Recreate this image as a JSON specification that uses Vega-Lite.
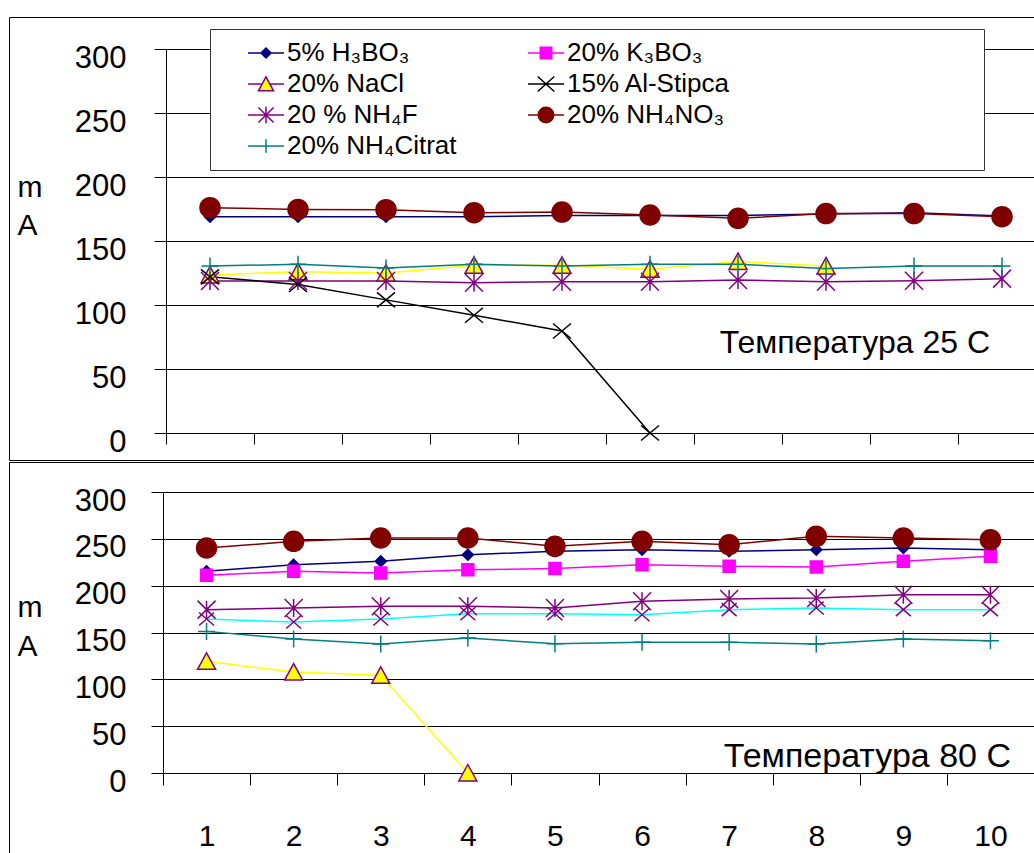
{
  "$schema": "https://vega.github.io/schema/vega-lite/v6.json",
  "padding": {"left": 8, "top": 16, "right": 0, "bottom": 0},
  "background": "white",
  "spacing": 0,
  "config": {
    "view": {"stroke": "black", "strokeWidth": 1},
    "font": "Liberation Sans",
    "axis": {"labelColor": "black", "domainColor": "black", "tickColor": "black", "gridColor": "black", "labelFont": "Liberation Sans", "titleFont": "Liberation Sans", "domainWidth": 1, "tickWidth": 1, "gridWidth": 1}
  },
  "datasets": {
    "t25": [
      {"x": 1, "v": 169, "s": "5% H₃BO₃"}, {"x": 2, "v": 169, "s": "5% H₃BO₃"}, {"x": 3, "v": 169, "s": "5% H₃BO₃"}, {"x": 4, "v": 169, "s": "5% H₃BO₃"}, {"x": 5, "v": 170, "s": "5% H₃BO₃"}, {"x": 6, "v": 170, "s": "5% H₃BO₃"}, {"x": 7, "v": 170, "s": "5% H₃BO₃"}, {"x": 8, "v": 171, "s": "5% H₃BO₃"}, {"x": 9, "v": 172, "s": "5% H₃BO₃"}, {"x": 10, "v": 169.5, "s": "5% H₃BO₃"},
      {"x": 1, "v": 123.5, "s": "20% NaCl"}, {"x": 2, "v": 126, "s": "20% NaCl"}, {"x": 3, "v": 125, "s": "20% NaCl"}, {"x": 4, "v": 131, "s": "20% NaCl"}, {"x": 5, "v": 131, "s": "20% NaCl"}, {"x": 6, "v": 128, "s": "20% NaCl"}, {"x": 7, "v": 134, "s": "20% NaCl"}, {"x": 8, "v": 130.5, "s": "20% NaCl"},
      {"x": 1, "v": 118.8, "s": "20 % NH₄F"}, {"x": 2, "v": 118.8, "s": "20 % NH₄F"}, {"x": 3, "v": 118.8, "s": "20 % NH₄F"}, {"x": 4, "v": 117.4, "s": "20 % NH₄F"}, {"x": 5, "v": 118.2, "s": "20 % NH₄F"}, {"x": 6, "v": 118.2, "s": "20 % NH₄F"}, {"x": 7, "v": 119.5, "s": "20 % NH₄F"}, {"x": 8, "v": 118.2, "s": "20 % NH₄F"}, {"x": 9, "v": 119, "s": "20 % NH₄F"}, {"x": 10, "v": 120.6, "s": "20 % NH₄F"},
      {"x": 1, "v": 130.5, "s": "20% NH₄Citrat"}, {"x": 2, "v": 131.8, "s": "20% NH₄Citrat"}, {"x": 3, "v": 129, "s": "20% NH₄Citrat"}, {"x": 4, "v": 131.8, "s": "20% NH₄Citrat"}, {"x": 5, "v": 130.5, "s": "20% NH₄Citrat"}, {"x": 6, "v": 131.8, "s": "20% NH₄Citrat"}, {"x": 7, "v": 131.8, "s": "20% NH₄Citrat"}, {"x": 8, "v": 128.6, "s": "20% NH₄Citrat"}, {"x": 9, "v": 130.5, "s": "20% NH₄Citrat"}, {"x": 10, "v": 130.5, "s": "20% NH₄Citrat"},
      {"x": 1, "v": 122, "s": "15% Al-Stipca"}, {"x": 2, "v": 116, "s": "15% Al-Stipca"}, {"x": 3, "v": 104, "s": "15% Al-Stipca"}, {"x": 4, "v": 92, "s": "15% Al-Stipca"}, {"x": 5, "v": 79.7, "s": "15% Al-Stipca"}, {"x": 6, "v": 0, "s": "15% Al-Stipca"},
      {"x": 1, "v": 176, "s": "20% NH₄NO₃"}, {"x": 2, "v": 174.7, "s": "20% NH₄NO₃"}, {"x": 3, "v": 174.5, "s": "20% NH₄NO₃"}, {"x": 4, "v": 172.1, "s": "20% NH₄NO₃"}, {"x": 5, "v": 172.6, "s": "20% NH₄NO₃"}, {"x": 6, "v": 170.3, "s": "20% NH₄NO₃"}, {"x": 7, "v": 167.7, "s": "20% NH₄NO₃"}, {"x": 8, "v": 171.4, "s": "20% NH₄NO₃"}, {"x": 9, "v": 171.4, "s": "20% NH₄NO₃"}, {"x": 10, "v": 169, "s": "20% NH₄NO₃"}
    ],
    "t80": [
      {"x": 1, "v": 215.3, "s": "5% H₃BO₃"}, {"x": 2, "v": 222.4, "s": "5% H₃BO₃"}, {"x": 3, "v": 226, "s": "5% H₃BO₃"}, {"x": 4, "v": 233, "s": "5% H₃BO₃"}, {"x": 5, "v": 236.7, "s": "5% H₃BO₃"}, {"x": 6, "v": 238.4, "s": "5% H₃BO₃"}, {"x": 7, "v": 236.7, "s": "5% H₃BO₃"}, {"x": 8, "v": 238.4, "s": "5% H₃BO₃"}, {"x": 9, "v": 240.2, "s": "5% H₃BO₃"}, {"x": 10, "v": 238.4, "s": "5% H₃BO₃"},
      {"x": 1, "v": 211, "s": "20% K₃BO₃"}, {"x": 2, "v": 215.3, "s": "20% K₃BO₃"}, {"x": 3, "v": 213.5, "s": "20% K₃BO₃"}, {"x": 4, "v": 217, "s": "20% K₃BO₃"}, {"x": 5, "v": 218.2, "s": "20% K₃BO₃"}, {"x": 6, "v": 222.4, "s": "20% K₃BO₃"}, {"x": 7, "v": 220.6, "s": "20% K₃BO₃"}, {"x": 8, "v": 220, "s": "20% K₃BO₃"}, {"x": 9, "v": 226, "s": "20% K₃BO₃"}, {"x": 10, "v": 231.3, "s": "20% K₃BO₃"},
      {"x": 1, "v": 119.2, "s": "20% NaCl"}, {"x": 2, "v": 107.8, "s": "20% NaCl"}, {"x": 3, "v": 104.3, "s": "20% NaCl"}, {"x": 4, "v": 0, "s": "20% NaCl"},
      {"x": 1, "v": 164.4, "s": "15% Al-Stipca"}, {"x": 2, "v": 161.2, "s": "15% Al-Stipca"}, {"x": 3, "v": 164.4, "s": "15% Al-Stipca"}, {"x": 4, "v": 170, "s": "15% Al-Stipca"}, {"x": 5, "v": 170, "s": "15% Al-Stipca"}, {"x": 6, "v": 169, "s": "15% Al-Stipca"}, {"x": 7, "v": 174.4, "s": "15% Al-Stipca"}, {"x": 8, "v": 176.2, "s": "15% Al-Stipca"}, {"x": 9, "v": 174.4, "s": "15% Al-Stipca"}, {"x": 10, "v": 174.4, "s": "15% Al-Stipca"},
      {"x": 1, "v": 174.4, "s": "20 % NH₄F"}, {"x": 2, "v": 176.2, "s": "20 % NH₄F"}, {"x": 3, "v": 178, "s": "20 % NH₄F"}, {"x": 4, "v": 178, "s": "20 % NH₄F"}, {"x": 5, "v": 176.2, "s": "20 % NH₄F"}, {"x": 6, "v": 183.3, "s": "20 % NH₄F"}, {"x": 7, "v": 185.8, "s": "20 % NH₄F"}, {"x": 8, "v": 186.8, "s": "20 % NH₄F"}, {"x": 9, "v": 190.4, "s": "20 % NH₄F"}, {"x": 10, "v": 190.4, "s": "20 % NH₄F"},
      {"x": 1, "v": 240.2, "s": "20% NH₄NO₃"}, {"x": 2, "v": 247.3, "s": "20% NH₄NO₃"}, {"x": 3, "v": 250.9, "s": "20% NH₄NO₃"}, {"x": 4, "v": 250.9, "s": "20% NH₄NO₃"}, {"x": 5, "v": 242, "s": "20% NH₄NO₃"}, {"x": 6, "v": 247.3, "s": "20% NH₄NO₃"}, {"x": 7, "v": 243.7, "s": "20% NH₄NO₃"}, {"x": 8, "v": 252.7, "s": "20% NH₄NO₃"}, {"x": 9, "v": 250.9, "s": "20% NH₄NO₃"}, {"x": 10, "v": 249.1, "s": "20% NH₄NO₃"},
      {"x": 1, "v": 151.2, "s": "20% NH₄Citrat"}, {"x": 2, "v": 143, "s": "20% NH₄Citrat"}, {"x": 3, "v": 137.7, "s": "20% NH₄Citrat"}, {"x": 4, "v": 144, "s": "20% NH₄Citrat"}, {"x": 5, "v": 138, "s": "20% NH₄Citrat"}, {"x": 6, "v": 139.5, "s": "20% NH₄Citrat"}, {"x": 7, "v": 139.5, "s": "20% NH₄Citrat"}, {"x": 8, "v": 137.7, "s": "20% NH₄Citrat"}, {"x": 9, "v": 143, "s": "20% NH₄Citrat"}, {"x": 10, "v": 141.3, "s": "20% NH₄Citrat"}
    ]
  },
  "resolve": {"scale": {"color": "independent", "shape": "independent", "stroke": "independent", "fill": "independent", "x": "independent", "y": "independent"}},
  "vconcat": [
    {
      "width": 1025,
      "height": 443,
      "title": {"text": "Температура 25 C", "orient": "bottom", "anchor": "end", "frame": "group", "offset": -132, "dx": -44, "fontSize": 32, "fontWeight": "normal", "color": "black", "font": "Liberation Sans"},
      "resolve": {"scale": {"shape": "independent", "stroke": "independent", "fill": "independent"}},
      "layer": [
        {
          "data": {"name": "t25"},
          "mark": {"type": "line", "strokeWidth": 1.5},
          "encoding": {
            "x": {"field": "x", "type": "quantitative", "scale": {"domain": [0.5, 10.3636], "range": [157, 1025], "nice": false, "zero": false},
                  "axis": {"values": [0.5, 1.5, 2.5, 3.5, 4.5, 5.5, 6.5, 7.5, 8.5, 9.5], "offset": -27, "labels": false, "grid": false, "tickSize": 11, "title": null}},
            "y": {"field": "v", "type": "quantitative", "scale": {"domain": [0, 300], "range": [416, 32], "nice": false, "zero": false},
                  "axis": {"values": [0, 50, 100, 150, 200, 250, 300], "offset": -157, "tickSize": 12, "labelFontSize": 31, "labelPadding": 28, "labelOffset": 9, "labelBaseline": "middle", "grid": true,
                           "title": ["m", "A"], "titleAngle": 0, "titleAlign": "left", "titleBaseline": "top", "titleX": -149, "titleY": 155, "titleFontSize": 30, "titleFontWeight": "normal", "titleLineHeight": 38, "titleColor": "black"}},
            "color": {"field": "s", "type": "nominal",
                      "scale": {"domain": ["5% H₃BO₃", "20% K₃BO₃", "20% NaCl", "15% Al-Stipca", "20 % NH₄F", "20% NH₄NO₃", "20% NH₄Citrat"],
                                "range": ["#000080", "#FF00FF", "#FFFF00", "#000000", "#800080", "#800000", "#008080"]},
                      "legend": null}
          }
        },
        {
          "data": {"name": "t25"},
          "mark": {"type": "point", "opacity": 1, "strokeWidth": 1.5, "size": 400, "filled": true},
          "encoding": {
            "x": {"field": "x", "type": "quantitative"},
            "y": {"field": "v", "type": "quantitative"},
            "shape": {"field": "s", "type": "nominal",
                      "scale": {"domain": ["5% H₃BO₃", "20% K₃BO₃", "20% NaCl", "15% Al-Stipca", "20 % NH₄F", "20% NH₄NO₃", "20% NH₄Citrat"],
                                "range": ["M0,-0.55L0.55,0L0,0.55L-0.55,0Z", "M-0.6,-0.6H0.6V0.6H-0.6Z", "M0,-0.85L0.9,0.8L-0.9,0.8Z", "M-0.9,-0.75L0.9,0.75M-0.9,0.75L0.9,-0.75", "M0,-0.9V0.9M-0.9,-0.9L0.9,0.9M-0.9,0.9L0.9,-0.9", "M1,0C1,0.5523,0.5523,1,0,1C-0.5523,1,-1,0.5523,-1,0C-1,-0.5523,-0.5523,-1,0,-1C0.5523,-1,1,-0.5523,1,0Z", "M0,-0.85V0.85M-0.85,0H0.85"]},
                      "legend": null},
            "stroke": {"field": "s", "type": "nominal",
                       "scale": {"domain": ["5% H₃BO₃", "20% K₃BO₃", "20% NaCl", "15% Al-Stipca", "20 % NH₄F", "20% NH₄NO₃", "20% NH₄Citrat"],
                                 "range": ["#000080", "#FF00FF", "#800080", "#000000", "#800080", "#800000", "#008080"]},
                       "legend": null},
            "fill": {"field": "s", "type": "nominal",
                     "scale": {"domain": ["5% H₃BO₃", "20% K₃BO₃", "20% NaCl", "15% Al-Stipca", "20 % NH₄F", "20% NH₄NO₃", "20% NH₄Citrat"],
                               "range": ["#000080", "#FF00FF", "#FFFF00", "transparent", "transparent", "#800000", "transparent"]},
                     "legend": null}
          }
        },
        {
          "data": {"name": "t25"},
          "transform": [{"filter": "false"}],
          "mark": {"type": "point", "opacity": 1, "strokeWidth": 1.5, "filled": true},
          "encoding": {
            "x": {"field": "x", "type": "quantitative"},
            "y": {"field": "v", "type": "quantitative"},
            "shape": {"field": "s", "type": "nominal",
                      "scale": {"domain": ["5% H₃BO₃", "20% NaCl", "20 % NH₄F", "20% NH₄Citrat", "20% K₃BO₃", "15% Al-Stipca", "20% NH₄NO₃"],
                                "range": ["M-1.5,0H-0.42M0.42,0H1.5M0,-0.42L0.42,0L0,0.42L-0.42,0Z", "M-1.5,0H-0.33M0.33,0H1.5M0,-0.6L0.63,0.57L-0.63,0.57Z", "M-1.5,0H1.5M0,-0.68V0.68M-0.63,-0.63L0.63,0.63M-0.63,0.63L0.63,-0.63", "M-1.5,0H1.5M0,-0.57V0.57", "M-1.5,0H-0.48M0.48,0H1.5M-0.48,-0.48H0.48V0.48H-0.48Z", "M-1.5,0H1.5M-0.69,-0.63L0.69,0.63M-0.69,0.63L0.69,-0.63", "M-1.5,0H-0.645M0.645,0H1.5M0.645,0C0.645,0.356,0.356,0.645,0,0.645C-0.356,0.645,-0.645,0.356,-0.645,0C-0.645,-0.356,-0.356,-0.645,0,-0.645C0.356,-0.645,0.645,-0.356,0.645,0Z"]},
                      "legend": {"orient": "none", "legendX": 201, "legendY": 12, "columns": 2, "title": "\u200b\u00a0\u00a0\u00a0\u00a0\u00a0\u00a0\u00a0\u00a0\u00a0\u00a0\u00a0\u00a0\u200b", "titleOrient": "right", "titleFontSize": 72, "titlePadding": 2, "titleLimit": 1000, "titleColor": "transparent", "symbolSize": 576, "symbolStrokeWidth": 1.5, "symbolFillColor": "transparent", "symbolOffset": 32, "labelFontSize": 26, "labelFont": "Liberation Sans", "labelColor": "black", "labelLimit": 600, "labelOffset": 8, "padding": 11, "rowPadding": 5, "columnPadding": 44, "fillColor": "white", "strokeColor": "#333333"}},
            "stroke": {"field": "s", "type": "nominal",
                       "scale": {"domain": ["5% H₃BO₃", "20% NaCl", "20 % NH₄F", "20% NH₄Citrat", "20% K₃BO₃", "15% Al-Stipca", "20% NH₄NO₃"],
                                 "range": ["#000080", "#800080", "#800080", "#008080", "#FF00FF", "#000000", "#800000"]},
                       "legend": {"orient": "none", "legendX": 201, "legendY": 12, "columns": 2, "title": "\u200b\u00a0\u00a0\u00a0\u00a0\u00a0\u00a0\u00a0\u00a0\u00a0\u00a0\u00a0\u00a0\u200b", "titleOrient": "right", "titleFontSize": 72, "titlePadding": 2, "titleLimit": 1000, "titleColor": "transparent", "symbolSize": 576, "symbolStrokeWidth": 1.5, "symbolFillColor": "transparent", "symbolOffset": 32, "labelFontSize": 26, "labelFont": "Liberation Sans", "labelColor": "black", "labelLimit": 600, "labelOffset": 8, "padding": 11, "rowPadding": 5, "columnPadding": 44, "fillColor": "white", "strokeColor": "#333333"}},
            "fill": {"field": "s", "type": "nominal",
                     "scale": {"domain": ["5% H₃BO₃", "20% NaCl", "20 % NH₄F", "20% NH₄Citrat", "20% K₃BO₃", "15% Al-Stipca", "20% NH₄NO₃"],
                               "range": ["#000080", "#FFFF00", "transparent", "transparent", "#FF00FF", "transparent", "#800000"]},
                     "legend": {"orient": "none", "legendX": 201, "legendY": 12, "columns": 2, "title": "\u200b\u00a0\u00a0\u00a0\u00a0\u00a0\u00a0\u00a0\u00a0\u00a0\u00a0\u00a0\u00a0\u200b", "titleOrient": "right", "titleFontSize": 72, "titlePadding": 2, "titleLimit": 1000, "titleColor": "transparent", "symbolSize": 576, "symbolStrokeWidth": 1.5, "symbolFillColor": "transparent", "symbolOffset": 32, "labelFontSize": 26, "labelFont": "Liberation Sans", "labelColor": "black", "labelLimit": 600, "labelOffset": 8, "padding": 11, "rowPadding": 5, "columnPadding": 44, "fillColor": "white", "strokeColor": "#333333"}}
          }
        }
      ]
    },
    {
      "width": 1025,
      "height": 392,
      "title": {"text": "Температура 80 C", "orient": "bottom", "anchor": "end", "frame": "group", "offset": -114, "dx": -23, "fontSize": 34, "fontWeight": "normal", "color": "black", "font": "Liberation Sans"},
      "layer": [
        {
          "data": {"name": "t80"},
          "mark": {"type": "line", "strokeWidth": 1.5},
          "encoding": {
            "x": {"field": "x", "type": "ordinal", "scale": {"type": "band", "domain": [1, 2, 3, 4, 5, 6, 7, 8, 9, 10], "range": [154, 1025], "paddingInner": 0, "paddingOuter": 0},
                  "axis": {"tickBand": "extent", "offset": -81, "labelAngle": 0, "labelFontSize": 30, "labelPadding": 36, "tickSize": 12, "grid": false, "title": null}},
            "y": {"field": "v", "type": "quantitative", "scale": {"domain": [0, 300], "range": [311, 30], "nice": false, "zero": false},
                  "axis": {"values": [0, 50, 100, 150, 200, 250, 300], "offset": -154, "tickSize": 12, "labelFontSize": 31, "labelPadding": 25, "labelOffset": 9, "labelBaseline": "middle", "grid": true,
                           "title": ["m", "A"], "titleAngle": 0, "titleAlign": "left", "titleBaseline": "top", "titleX": -146, "titleY": 130, "titleFontSize": 30, "titleFontWeight": "normal", "titleLineHeight": 39, "titleColor": "black"}},
            "color": {"field": "s", "type": "nominal",
                      "scale": {"domain": ["5% H₃BO₃", "20% K₃BO₃", "20% NaCl", "15% Al-Stipca", "20 % NH₄F", "20% NH₄NO₃", "20% NH₄Citrat"],
                                "range": ["#000080", "#FF00FF", "#FFFF00", "#00FFFF", "#800080", "#800000", "#008080"]},
                      "legend": null}
          }
        },
        {
          "data": {"name": "t80"},
          "mark": {"type": "point", "opacity": 1, "strokeWidth": 1.5, "size": 400, "filled": true},
          "encoding": {
            "x": {"field": "x", "type": "ordinal"},
            "y": {"field": "v", "type": "quantitative"},
            "shape": {"field": "s", "type": "nominal",
                      "scale": {"domain": ["5% H₃BO₃", "20% K₃BO₃", "20% NaCl", "15% Al-Stipca", "20 % NH₄F", "20% NH₄NO₃", "20% NH₄Citrat"],
                                "range": ["M0,-0.55L0.55,0L0,0.55L-0.55,0Z", "M-0.6,-0.6H0.6V0.6H-0.6Z", "M0,-0.85L0.9,0.8L-0.9,0.8Z", "M-0.75,-0.65L0.75,0.65M-0.75,0.65L0.75,-0.65", "M0,-0.9V0.9M-0.9,-0.9L0.9,0.9M-0.9,0.9L0.9,-0.9", "M1,0C1,0.5523,0.5523,1,0,1C-0.5523,1,-1,0.5523,-1,0C-1,-0.5523,-0.5523,-1,0,-1C0.5523,-1,1,-0.5523,1,0Z", "M0,-0.85V0.85M-0.85,0H0.85"]},
                      "legend": null},
            "stroke": {"field": "s", "type": "nominal",
                       "scale": {"domain": ["5% H₃BO₃", "20% K₃BO₃", "20% NaCl", "15% Al-Stipca", "20 % NH₄F", "20% NH₄NO₃", "20% NH₄Citrat"],
                                 "range": ["#000080", "#FF00FF", "#800080", "#800080", "#800080", "#800000", "#008080"]},
                       "legend": null},
            "fill": {"field": "s", "type": "nominal",
                     "scale": {"domain": ["5% H₃BO₃", "20% K₃BO₃", "20% NaCl", "15% Al-Stipca", "20 % NH₄F", "20% NH₄NO₃", "20% NH₄Citrat"],
                               "range": ["#000080", "#FF00FF", "#FFFF00", "transparent", "transparent", "#800000", "transparent"]},
                     "legend": null}
          }
        }
      ]
    }
  ]
}
